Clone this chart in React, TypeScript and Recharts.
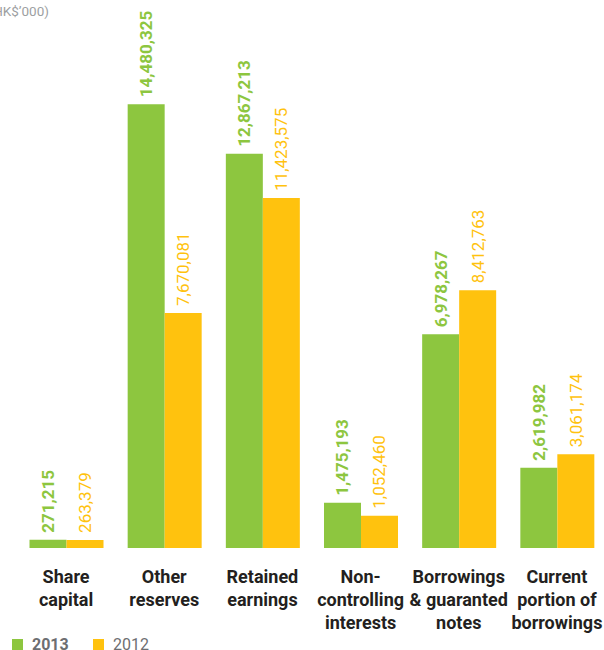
import React from "react";
import { BarChart, Bar, XAxis, YAxis, LabelList } from "recharts";

const categories: string[][] = [
  ["Share", "capital"],
  ["Other", "reserves"],
  ["Retained", "earnings"],
  ["Non-", "controlling", "interests"],
  ["Borrowings", "& guaranted", "notes"],
  ["Current", "portion of", "borrowings"],
];
const values2013 = [271215, 14480325, 12867213, 1475193, 6978267, 2619982];
const values2012 = [263379, 7670081, 11423575, 1052460, 8412763, 3061174];
const seriesNames = ["2013", "2012"];
const unitLabel = "(HK$\u2019000)";

const GREEN = "#8dc63f";
const YELLOW = "#ffc20e";
const FONT = "Roboto, 'Noto Sans', sans-serif";

const data = categories.map((c, i) => ({
  key: String(i),
  lines: c,
  v2013: values2013[i],
  v2012: values2012[i],
}));

const fmt = (v: number) => v.toLocaleString("en-US");

const makeLabel = (color: string, weight: string) => (props: any) => {
  const { x, y, width, value } = props;
  const cx = Number(x) + Number(width) / 2;
  const ty = Number(y) - 7;
  return (
    <text
      x={cx}
      y={ty}
      transform={`rotate(-90 ${cx} ${ty})`}
      textAnchor="start"
      dominantBaseline="central"
      fill={color}
      fontFamily={FONT}
      fontWeight={weight}
      fontSize={17}
    >
      {fmt(Number(value))}
    </text>
  );
};

const CatTick = (props: any) => {
  const { x, y, payload } = props;
  const lines = categories[Number(payload.value)] || [];
  return (
    <text
      x={x}
      y={y}
      textAnchor="middle"
      fill="#231f20"
      fontFamily={FONT}
      fontWeight="bold"
      fontSize={18}
    >
      {lines.map((l, i) => (
        <tspan key={i} x={x} dy={i === 0 ? 35 : 23}>
          {l}
        </tspan>
      ))}
    </text>
  );
};

export default function App() {
  return (
    <div
      style={{
        position: "absolute",
        left: 0,
        top: 0,
        width: 604,
        height: 650,
        overflow: "hidden",
        background: "#fff",
      }}
    >
      <BarChart
        width={620}
        height={650}
        data={data}
        margin={{ top: 27, right: 14, bottom: 0, left: 17 }}
        barGap={0}
        barCategoryGap={12.5}
      >
        <text x={49} y={16} textAnchor="end" fill="#9d9fa2" fontFamily={FONT} fontSize={13.5}>
          {unitLabel}
        </text>
        <XAxis
          dataKey="key"
          tickLine={false}
          axisLine={false}
          tickSize={0}
          tickMargin={0}
          height={102}
          interval={0}
          tick={<CatTick />}
        />
        <YAxis hide domain={[0, 17000000]} />
        <Bar dataKey="v2013" name={seriesNames[0]} fill={GREEN} isAnimationActive={false}>
          <LabelList dataKey="v2013" content={makeLabel(GREEN, "bold")} />
        </Bar>
        <Bar dataKey="v2012" name={seriesNames[1]} fill={YELLOW} isAnimationActive={false}>
          <LabelList dataKey="v2012" content={makeLabel(YELLOW, "normal")} />
        </Bar>
      </BarChart>
      <div
        style={{
          position: "absolute",
          left: 12,
          top: 637,
          display: "flex",
          alignItems: "center",
          fontFamily: FONT,
          fontSize: 16,
          color: "#6d6e71",
          lineHeight: "16px",
        }}
      >
        <span style={{ width: 11, height: 12, background: GREEN, display: "inline-block" }} />
        <span style={{ marginLeft: 9, fontWeight: "bold", width: 61 }}>{seriesNames[0]}</span>
        <span style={{ width: 11, height: 12, background: YELLOW, display: "inline-block" }} />
        <span style={{ marginLeft: 9 }}>{seriesNames[1]}</span>
      </div>
    </div>
  );
}
